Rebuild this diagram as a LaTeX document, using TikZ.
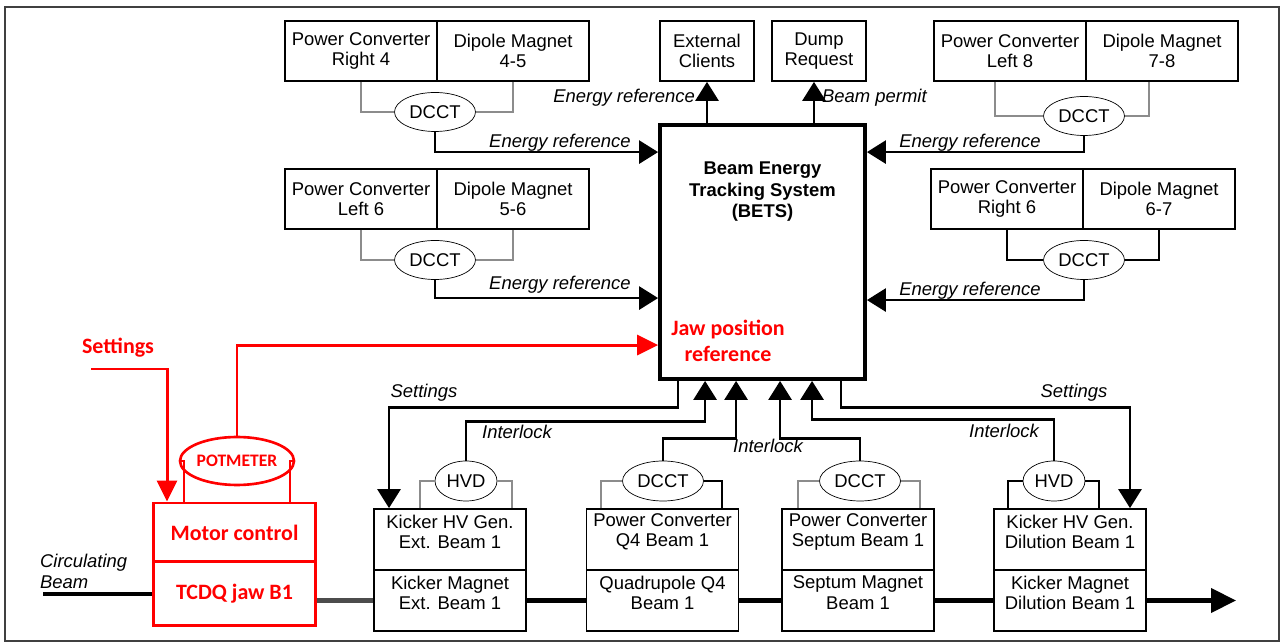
\documentclass[tikz,border=0pt]{standalone}
\usepackage{fontspec}
\setmainfont{Liberation Sans}
\newfontfamily\calibrifont{Carlito}
\usepackage{tikz}
\usetikzlibrary{positioning}
\usetikzlibrary{arrows.meta}
\usetikzlibrary{shapes.geometric}
\definecolor{gray}{rgb}{0.55,0.55,0.55}
\definecolor{jawred}{rgb}{1,0,0}

\begin{document}
\begin{tikzpicture}[
            x = 0.02cm, y = -0.02cm, % one unit = one pixel, y downwards
            > = {Triangle[length=0.38cm, width=0.46cm]}, % arrow head style
            font = \fontsize{10.5}{11.5}\selectfont
        ]

        \tikzstyle{box}=[
            draw,
            line width = 1pt,
            align = center,
            inner sep = 0pt,
            minimum width = 3.04cm,
            minimum height = 1.2cm
        ]
        % cells along the beam carry their text a little high
        \tikzset{cell/.style={box, minimum height = 1.22cm,
            label={[align = center, yshift = 4.5pt]center:#1}}}
        \tikzstyle{sensor}=[
            draw,
            ellipse,
            inner sep = 0pt,
            minimum width = 1.62cm,
            minimum height = 0.78cm
        ]
        \tikzstyle{tap}=[draw = gray, line width = 0.8pt]
        \tikzstyle{signal}=[->, line width = 1.6pt]
        \tikzstyle{tag}=[font = \fontsize{10.5}{12}\selectfont\itshape, inner sep = 1pt]
        \tikzstyle{redtext}=[text = jawred, font = \fontsize{12.5}{15}\selectfont\calibrifont\bfseries]
        \tikzstyle{redbox}=[draw = jawred, line width = 1.7pt, minimum width = 3.26cm, inner sep = 0pt]
        \tikzstyle{redsignal}=[-{Triangle[length=0.42cm, width=0.4cm]}, draw = jawred, line width = 1.7pt]

        \useasboundingbox (0,0) rectangle (1282,644);
        \draw[line width = 1.2pt, black!75] (5,7) rectangle (1279,641);

        % tracking system
        \node[draw, line width = 2.2pt, minimum width = 4.1cm, minimum height = 5.08cm] (bets) at (762.5,252) {};
        \node[font = \fontsize{10.5}{12}\selectfont\bfseries, align = center, below = 0.66cm of bets.north] (betsname) {Beam Energy\\Tracking System\\(BETS)};
        \node[redtext, align = center] (jawref) at (728,341) {Jaw position\\reference};

        % outputs
        \node[box, minimum width = 1.88cm] (ext) at (707,51) {External\\Clients};
        \node[box, minimum width = 1.88cm] (dump) at (819,51) {Dump\\Request};
        \draw[signal] (bets.north -| ext) -- (ext);
        \draw[signal] ([xshift=-0.1cm]bets.north -| dump) -- ([xshift=-0.1cm]dump.south);
        \node[tag, anchor = east] (erout) at (697,98) {Energy reference};
        \node[tag, anchor = west] (permit) at (820,98) {Beam permit};

        % dipole circuits, left side
        \node[box] (pcR4) at (361,51) {Power Converter\\Right 4};
        \node[box] (dm45) at (513,51) {Dipole Magnet\\4-5};
        \node[sensor] (dcct1) at (435,112) {DCCT};
        \draw[tap] (pcR4.south) |- (dcct1.west);
        \draw[tap] (dm45.south) |- (dcct1.east);
        \draw[signal] (dcct1.south) |- ([yshift=-0.58cm]bets.north west);
        \node[tag] (er1) at (560,143) {Energy reference};

        \node[box] (pcL6) at (361,199) {Power Converter\\Left 6};
        \node[box] (dm56) at (513,199) {Dipole Magnet\\5-6};
        \node[sensor] (dcct2) at (435,260) {DCCT};
        \draw[tap] (pcL6.south) |- (dcct2.west);
        \draw[tap] (dm56.south) |- (dcct2.east);
        \draw[signal] (dcct2.south) |- ([yshift=-3.5cm]bets.north west);
        \node[tag] (er2) at (560,285) {Energy reference};

        % dipole circuits, right side
        \node[box] (pcL8) at (1010,51) {Power Converter\\Left 8};
        \node[box] (dm78) at (1162,51) {Dipole Magnet\\7-8};
        \node[sensor] (dcct3) at (1084,116) {DCCT};
        \draw[tap] ([xshift=-0.3cm]pcL8.south) |- (dcct3.west);
        \draw[tap] ([xshift=-0.26cm]dm78.south) |- (dcct3.east);
        \draw[signal] (dcct3.south) |- ([yshift=-0.58cm]bets.north east);
        \node[tag] (er3) at (970,143) {Energy reference};

        \node[box] (pcR6) at (1007,199) {Power Converter\\Right 6};
        \node[box] (dm67) at (1159,199) {Dipole Magnet\\6-7};
        \node[sensor] (dcct4) at (1084,260) {DCCT};
        \draw[tap, black] (pcR6.south) |- (dcct4.west);
        \draw[tap, black] (dm67.south) |- (dcct4.east);
        \draw[signal] (dcct4.south) |- ([yshift=-3.54cm]bets.north east);
        \node[tag] (er4) at (970,291) {Energy reference};

        % extraction elements along the beam
        \node[cell={Kicker HV Gen.\\Ext. Beam 1}] (kgE) at (450,539.5) {};
        \node[cell={Kicker Magnet\\Ext. Beam 1}] (kmE) at (450,600.5) {};
        \node[cell={Power Converter\\Q4 Beam 1}] (pcQ) at (662.5,539.5) {};
        \node[cell={Quadrupole Q4\\Beam 1}] (qdQ) at (662.5,600.5) {};
        \node[cell={Power Converter\\Septum Beam 1}] (pcS) at (858,539.5) {};
        \node[cell={Septum Magnet\\Beam 1}] (smS) at (858,600.5) {};
        \node[cell={Kicker HV Gen.\\Dilution Beam 1}] (kgD) at (1070,539.5) {};
        \node[cell={Kicker Magnet\\Dilution Beam 1}] (kmD) at (1070,600.5) {};

        \node[sensor, minimum width = 1.24cm, minimum height = 0.8cm] (hvd1) at (466,481) {HVD};
        \node[sensor, minimum height = 0.8cm] (dcctQ) at (663,481) {DCCT};
        \node[sensor, minimum height = 0.8cm] (dcctS) at (860,481) {DCCT};
        \node[sensor, minimum width = 1.24cm, minimum height = 0.8cm] (hvd2) at (1054,481) {HVD};

        \draw[tap] ([xshift=-0.6cm]kgE.north) |- (hvd1.west);
        \draw[tap] ([xshift=1.24cm]kgE.north) |- (hvd1.east);
        \draw[tap] ([xshift=-1.23cm]pcQ.north) |- (dcctQ.west);
        \draw[tap, black] ([xshift=1.19cm]pcQ.north) |- (dcctQ.east);
        \draw[tap] ([xshift=-1.2cm]pcS.north) |- (dcctS.west);
        \draw[tap] ([xshift=1.24cm]pcS.north) |- (dcctS.east);
        \draw[tap, black] ([xshift=-1.24cm]kgD.north) |- (hvd2.west);
        \draw[tap, black] ([xshift=0.58cm]kgD.north) |- (hvd2.east);

        \draw[signal] ([xshift=0.4cm]bets.south west) -- ++(0,27) -| ([xshift=-1.22cm]kgE.north);
        \draw[signal] (hvd1.north) -- ++(0,-39) -| ([xshift=0.94cm]bets.south west);
        \draw[signal] (dcctQ.north) -- ++(0,-22) -| ([xshift=1.56cm]bets.south west);
        \draw[signal] (dcctS.north) -- ++(0,-22) -| ([xshift=2.44cm]bets.south west);
        \draw[signal] (hvd2.north) -- ++(0,-41) -| ([xshift=3.08cm]bets.south west);
        \draw[signal] ([xshift=3.66cm]bets.south west) -- ++(0,27) -| ([xshift=1.2cm]kgD.north);

        \node[tag] (set1) at (424,393) {Settings};
        \node[tag] (il1) at (517,432) {Interlock};
        \node[tag] (il2) at (768,446) {Interlock};
        \node[tag] (il3) at (1004,431) {Interlock};
        \node[tag] (set2) at (1074,393) {Settings};

        % collimator jaw
        \node[redbox, redtext, minimum height = 1.18cm] (motor) at (234.5,532.5) {Motor control};
        \node[redbox, redtext, minimum height = 1.28cm] (jaw) at (234.5,594) {TCDQ jaw B1};
        \node[draw = jawred, line width = 1.5pt, ellipse, inner sep = 0pt,
              minimum width = 1.74cm, minimum height = 0.96cm, text = jawred,
              font = \fontsize{10}{11}\selectfont\calibrifont\bfseries] (pot) at (237,461) {POTMETER};
        \draw[jawred, line width = 1.3pt] ([xshift=-1.01cm]motor.north) |- (pot.west);
        \draw[jawred, line width = 1.3pt] ([xshift=1.11cm]motor.north) |- (pot.east);
        \draw[redsignal] (pot.north) |- ([yshift=-4.44cm]bets.north west);
        \node[redtext] (setred) at (118,348) {Settings};
        \coordinate (setin) at (91,369);
        \draw[redsignal] (setin) -| ([xshift=-1.35cm]motor.north);

        % circulating beam
        \coordinate (beamin) at (43,594);
        \coordinate (beamout) at (1236,600.5);
        \node[tag, align = left, anchor = west] (circ) at (38,571) {Circulating\\Beam};
        \draw[line width = 2.6pt] (beamin) -- (jaw.west);
        \draw[line width = 2.6pt, black!70] (jaw.east |- kmE) -- (kmE.west);
        \draw[line width = 2.4pt] (kmE.east) -- (qdQ.west);
        \draw[line width = 2.4pt] (qdQ.east) -- (smS.west);
        \draw[line width = 2.4pt] (smS.east) -- (kmD.west);
        \draw[line width = 2.4pt, -{Triangle[length=0.5cm, width=0.48cm]}] (kmD.east) -- (beamout);

\end{tikzpicture}
\end{document}
